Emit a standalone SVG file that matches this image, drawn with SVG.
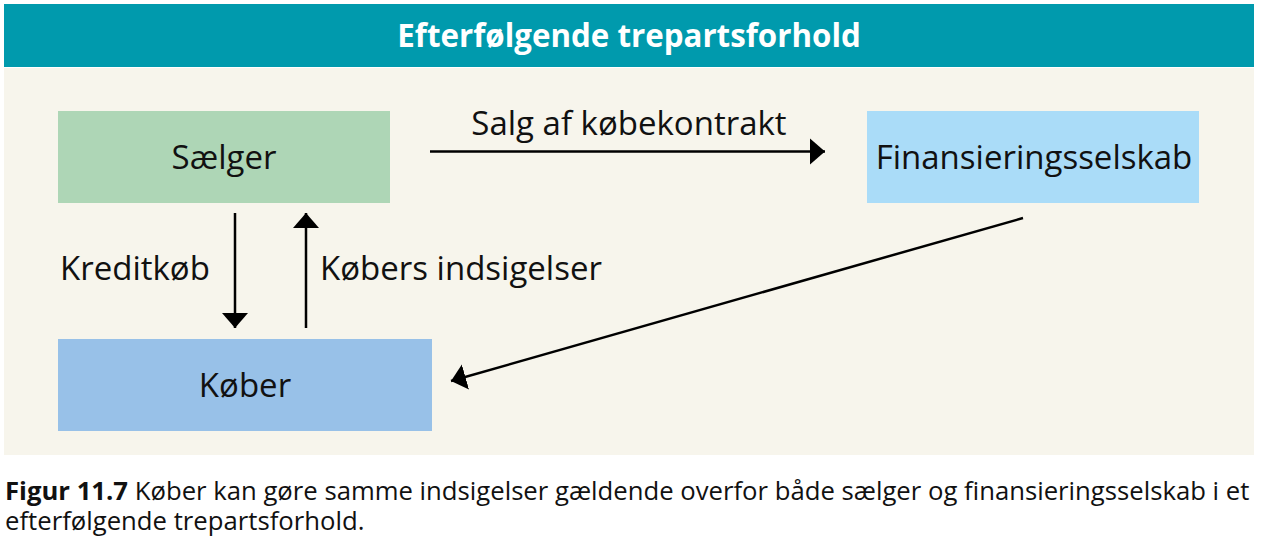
<svg xmlns="http://www.w3.org/2000/svg" width="1261" height="541" viewBox="0 0 1261 541">
  <style>
    .lbl { font-family: "Open Sans", "Noto Sans", sans-serif; font-size: 33px; fill: #111; }
    .title { font-family: "Open Sans", "Noto Sans", sans-serif; font-size: 31.3px; font-weight: bold; fill: #ffffff; }
    .cap { font-family: "Open Sans", "Noto Sans", sans-serif; font-size: 25.7px; fill: #111; }
    .conn { stroke: #000; stroke-width: 2.5; fill: none; marker-end: url(#arr); }
  </style>
  <defs>
    <marker id="arr" markerUnits="userSpaceOnUse" markerWidth="16" markerHeight="28" viewBox="0 0 16 28" refX="15" refY="14" orient="auto">
      <path d="M0,1 L15,14 L0,27 z" fill="#000"/>
    </marker>
  </defs>
  <rect x="0" y="0" width="1261" height="541" fill="#ffffff"/>
  <g id="header">
    <rect x="4" y="4" width="1250" height="63" fill="#009AAD"/>
    <text class="title" x="629" y="47" text-anchor="middle">Efterfølgende trepartsforhold</text>
  </g>
  <rect id="panel" x="4" y="68" width="1250" height="387" fill="#F7F5EC"/>
  <g id="saelger">
    <rect x="58" y="111" width="332" height="92" fill="#AED6B6"/>
    <text class="lbl" x="224" y="169" text-anchor="middle">Sælger</text>
  </g>
  <g id="finansieringsselskab">
    <rect x="867" y="111" width="332" height="92" fill="#AADCF8"/>
    <text class="lbl" x="1034" y="169" text-anchor="middle">Finansieringsselskab</text>
  </g>
  <g id="koeber">
    <rect x="58" y="339" width="374" height="92" fill="#98C1E8"/>
    <text class="lbl" x="245" y="397" text-anchor="middle">Køber</text>
  </g>
  <g id="connectors">
    <line class="conn" x1="430" y1="151.5" x2="825" y2="151.5"/>
    <text class="lbl" x="629" y="135" text-anchor="middle">Salg af købekontrakt</text>
    <line class="conn" x1="235" y1="213" x2="235" y2="328"/>
    <text class="lbl" x="60" y="280">Kreditkøb</text>
    <line class="conn" x1="306" y1="328" x2="306" y2="213"/>
    <text class="lbl" x="320" y="280">Købers indsigelser</text>
    <line class="conn" x1="1023" y1="218" x2="451" y2="381"/>
  </g>
  <g id="caption">
    <text class="cap" x="5" y="500"><tspan font-weight="bold">Figur 11.7</tspan> Køber kan gøre samme indsigelser gældende overfor både sælger og finansieringsselskab i et</text>
    <text class="cap" x="5" y="530">efterfølgende trepartsforhold.</text>
  </g>
</svg>
